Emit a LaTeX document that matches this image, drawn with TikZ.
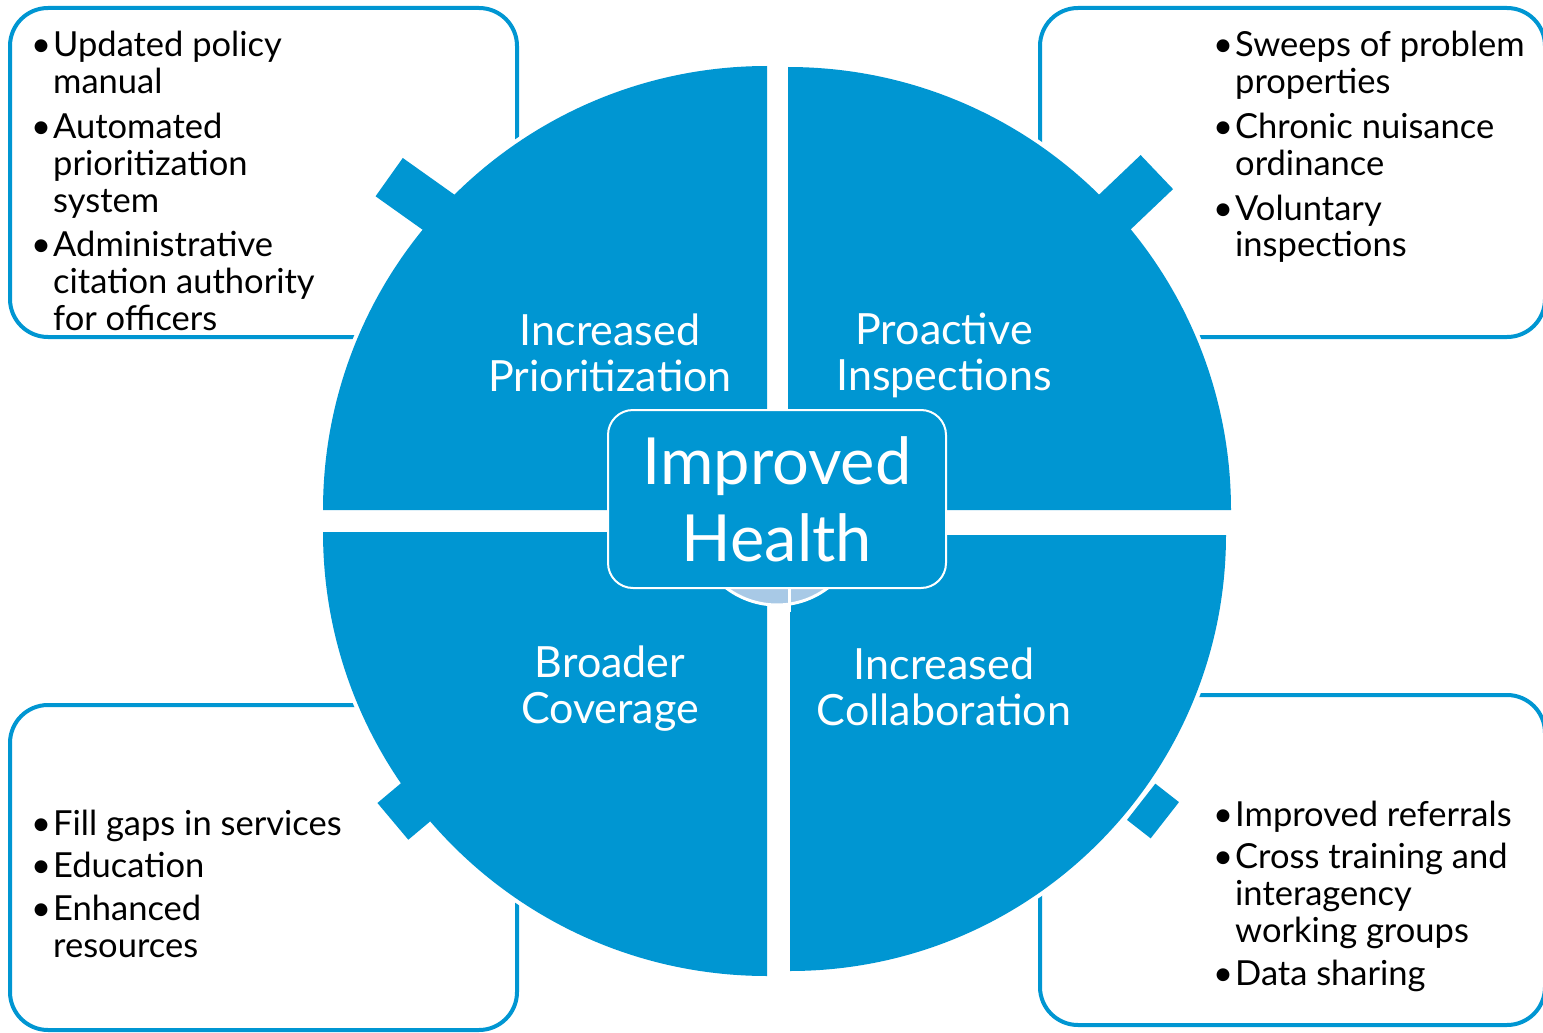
\documentclass[tikz,border=0pt]{standalone}
\usepackage{fontspec}
\setmainfont{Lato}

\definecolor{healthblue}{RGB}{0,150,210}
\definecolor{hublight}{RGB}{168,201,230}

\newcommand{\listfont}{\fontsize{34.5}{36.8}\selectfont}

\begin{document}
\begin{tikzpicture}[x=1pt, y=-1pt,
        every node/.style={inner sep=0pt},
        box/.style={rectangle, draw=healthblue, line width=4pt, fill=white, rounded corners=38pt},
        quarter/.style={fill=healthblue, preaction={draw=white, line width=8pt}},
        tabpiece/.style={rectangle, fill=healthblue},
        bullets/.style={anchor=base west, font=\listfont},
        title/.style={text=white, align=center, font=\fontsize{43}{46}\selectfont}
    ]

        \useasboundingbox (0,0) rectangle (1543,1033);

        %--------------------------------
        % boxes behind the circle
        %--------------------------------
        \foreach \nm/\cx/\cy/\w/\h in {boxPrio/263.5/172.5/507/329, boxInsp/1292.5/172.5/505/329,
                                      boxCov/263.5/867.5/507/325, boxCollab/1292.5/860/505/330}
            \node[box, minimum width=\w, minimum height=\h] (\nm) at (\cx,\cy) {};

        %--------------------------------
        % the four quarters
        %--------------------------------
        \path[quarter] (767,510) -- (323,510) arc[start angle=180, end angle=90, radius=444pt] -- cycle;
        \path[quarter] (788,510) -- (788,67) arc[start angle=90, end angle=0, radius=443pt] -- cycle;
        \path[quarter] (767,532) -- (323,532) arc[start angle=180, end angle=270, radius=444pt] -- cycle;
        \path[quarter] (790,535) -- (1226,535) arc[start angle=0, end angle=-90, radius=436pt] -- cycle;

        % tabs
        \node[tabpiece, minimum width=110, minimum height=47, rotate=144.6] (tabPrio) at (434,209) {};
        \node[tabpiece, minimum width=110, minimum height=47, rotate=43.6] (tabInsp) at (1117,210) {};
        \node[tabpiece, minimum width=110, minimum height=48, rotate=220] (tabCov) at (435,786) {};
        \node[tabpiece, minimum width=30, minimum height=46, rotate=-38] (tabCollab) at (1153,811) {};

        %--------------------------------
        % centre
        %--------------------------------
        \node[circle, fill=hublight, draw=white, line width=3pt, minimum size=168] (hub) at (777,521) {};
        \draw[white, line width=3pt] (789,560) -- (789,612);

        \node[rectangle, rounded corners=25pt, fill=healthblue, draw=white, line width=2pt,
              minimum width=338, minimum height=178, text=white, align=center,
              font=\fontsize{65}{77}\selectfont] (health) at (777,499) {Improved\\Health};

        \node[title] (lblPrio) at (610,353) {Increased\\Prioritization};
        \node[title] (lblInsp) at (944,355) {Proactive\\Inspections};
        \node[title] (lblCov) at (610,689) {Broader\\Coverage};
        \node[title] (lblCollab) at (944,687) {Increased\\Collaboration};

        %--------------------------------
        % lists
        %--------------------------------
        \node[bullets] (listPrio) at (31,57) {\begin{tabular}[t]{@{}p{22pt}@{}l@{}}
            \textbullet & Updated policy\\ & manual\\[8pt]
            \textbullet & Automated\\ & prioritization\\ & system\\[8pt]
            \textbullet & Administrative\\ & citation authority\\ & for officers
        \end{tabular}};

        \node[bullets] (listInsp) at (1213,57) {\begin{tabular}[t]{@{}p{22pt}@{}l@{}}
            \textbullet & Sweeps of problem\\ & properties\\[8pt]
            \textbullet & Chronic nuisance\\ & ordinance\\[8pt]
            \textbullet & Voluntary\\ & inspections
        \end{tabular}};

        \node[bullets] (listCov) at (31,835) {\begin{tabular}[t]{@{}p{22pt}@{}l@{}}
            \textbullet & Fill gaps in services\\[6pt]
            \textbullet & Education\\[6pt]
            \textbullet & Enhanced\\ & resources
        \end{tabular}};

        \node[bullets] (listCollab) at (1213,826) {\begin{tabular}[t]{@{}p{22pt}@{}l@{}}
            \textbullet & Improved referrals\\[6pt]
            \textbullet & Cross training and\\ & interagency\\ & working groups\\[6pt]
            \textbullet & Data sharing
        \end{tabular}};

    \end{tikzpicture}
\end{document}
